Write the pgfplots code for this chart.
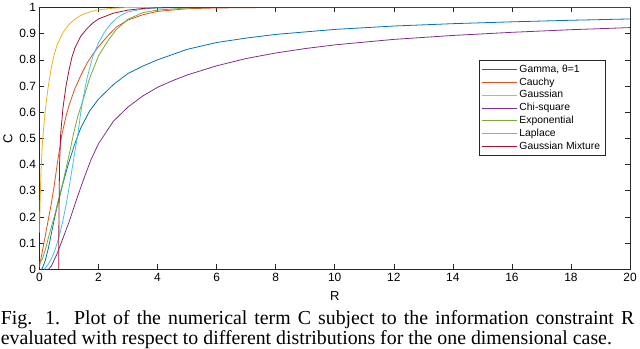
\documentclass[border=0pt]{standalone}
\usepackage{pgfplots}
\pgfplotsset{compat=1.18}
\usepackage{fontspec}
\setmainfont{Liberation Sans}
\newfontfamily\capfont{Liberation Serif}
\definecolor{mblue}{rgb}{0,0.447,0.741}
\definecolor{morange}{rgb}{0.85,0.325,0.098}
\definecolor{myellow}{rgb}{0.929,0.694,0.125}
\definecolor{mpurple}{rgb}{0.494,0.184,0.556}
\definecolor{mgreen}{rgb}{0.466,0.674,0.188}
\definecolor{mcyan}{rgb}{0.301,0.745,0.933}
\definecolor{mred}{rgb}{0.635,0.078,0.184}
\definecolor{axgray}{rgb}{0.15,0.15,0.15}
\begin{document}
\begin{tikzpicture}
\begin{axis}[
    name=ax,
    scale only axis,
    width=593pt, height=263pt,
    xmin=0, xmax=20, ymin=0, ymax=1,
    xtick={0,2,...,20},
    ytick={0,0.1,...,1},
    yticklabel style={/pgf/number format/fixed},
    /pgf/number format/assume math mode=true,
    tick align=inside,
    major tick length=5pt,
    axis line style={axgray},
    tick style={axgray, line width=0.6pt},
    ticklabel style={font=\fontsize{12}{14}\selectfont},
    xlabel={R}, ylabel={C},
    label style={font=\fontsize{13}{15}\selectfont},
    xlabel style={yshift=-3pt},
    legend style={at={(0.958,0.798)}, anchor=north east,
        font=\fontsize{10.4}{12}\selectfont, draw=axgray,
        row sep=0pt, inner xsep=3pt, inner ysep=2pt},
    legend cell align=left,
    legend image code/.code={\draw[#1, line width=0.9pt] (0pt,0pt) -- (35pt,0pt);},
    every axis plot/.append style={line width=0.8pt},
    clip=true,
]
% Gamma, theta=1
\addplot[mblue] coordinates {
(0.07,0) (0.1,0.005) (0.2,0.035) (0.3,0.08) (0.4,0.135) (0.5,0.19)
(0.6,0.24) (0.8,0.33) (1.0,0.41) (1.2,0.48) (1.4,0.54) (1.7,0.605)
(2.0,0.65) (2.5,0.705) (3.0,0.748) (3.5,0.776) (4,0.8) (5,0.84)
(6,0.866) (7,0.883) (8,0.897) (10,0.916) (12,0.929) (14,0.938)
(16,0.945) (18,0.951) (20,0.956)};
% Cauchy
\addplot[morange] coordinates {
(0,0.01) (0.05,0.04) (0.1,0.07) (0.2,0.13) (0.3,0.19) (0.4,0.25)
(0.5,0.32) (0.6,0.40) (0.75,0.51) (0.9,0.585) (1.0,0.625) (1.2,0.69)
(1.4,0.74) (1.6,0.785) (1.8,0.82) (2.0,0.85) (2.3,0.89) (2.6,0.925)
(3.0,0.952) (3.5,0.972) (4.0,0.985) (5,0.995) (6,0.998) (8,1) (20,1)};
% Gaussian
\addplot[myellow] coordinates {
(0,0.14) (0.02,0.25) (0.05,0.37) (0.1,0.48) (0.15,0.55) (0.2,0.61)
(0.3,0.70) (0.4,0.77) (0.5,0.82) (0.6,0.858) (0.8,0.905) (1.0,0.935)
(1.2,0.955) (1.4,0.97) (1.7,0.983) (2.0,0.991) (2.5,0.997) (3,1) (20,1)};
% Chi-square
\addplot[mpurple] coordinates {
(0.3,0) (0.4,0.012) (0.6,0.06) (0.8,0.12) (1.0,0.18) (1.25,0.265)
(1.5,0.345) (1.75,0.42) (2.0,0.48) (2.5,0.565) (3.0,0.62) (3.5,0.662)
(4.0,0.695) (4.5,0.72) (5.0,0.742) (6.0,0.777) (7.0,0.805) (8.0,0.826)
(9.0,0.843) (10,0.857) (12,0.878) (14,0.893) (16,0.905) (18,0.915)
(20,0.923)};
% Exponential
\addplot[mgreen] coordinates {
(0,0.025) (0.1,0.04) (0.2,0.075) (0.3,0.12) (0.4,0.16) (0.5,0.2)
(0.6,0.245) (0.7,0.29) (0.8,0.335) (0.9,0.385) (1.0,0.435) (1.15,0.515)
(1.3,0.585) (1.5,0.655) (1.7,0.73) (2.0,0.815) (2.3,0.87) (2.6,0.915)
(3.0,0.955) (3.5,0.98) (4.0,0.99) (5,0.998) (6,1) (20,1)};
% Laplace
\addplot[mcyan] coordinates {
(0.15,0) (0.2,0.005) (0.3,0.02) (0.4,0.04) (0.5,0.065) (0.6,0.1)
(0.7,0.14) (0.8,0.19) (0.9,0.245) (1.0,0.31) (1.1,0.38) (1.2,0.45)
(1.3,0.515) (1.4,0.6) (1.5,0.665) (1.6,0.725) (1.8,0.81) (2.0,0.865)
(2.2,0.905) (2.4,0.935) (2.6,0.958) (2.8,0.973) (3.0,0.983) (3.5,0.994)
(4,0.998) (5,1) (20,1)};
% Gaussian Mixture
\addplot[mred] coordinates {
(0.65,0) (0.66,0.2) (0.68,0.4) (0.72,0.52) (0.8,0.62) (0.9,0.7)
(1.0,0.76) (1.1,0.81) (1.2,0.845) (1.4,0.89) (1.6,0.918) (1.8,0.94)
(2.0,0.956) (2.5,0.978) (3.0,0.99) (3.5,0.996) (4,0.999) (5,1) (20,1)};
\legend{Gamma{,} θ=1, Cauchy, Gaussian, Chi-square, Exponential, Laplace, Gaussian Mixture}
\end{axis}
\node[anchor=base west, inner sep=0, font=\capfont\fontsize{19.9}{20}\selectfont, align=left]
  at ([xshift=-39pt, yshift=-75pt]ax.south west)
  {\makebox[636pt][s]{Fig. 1.\ \ Plot of the numerical term C subject to the information constraint R}\\
   evaluated with respect to different distributions for the one dimensional case.};
\end{tikzpicture}
\end{document}
